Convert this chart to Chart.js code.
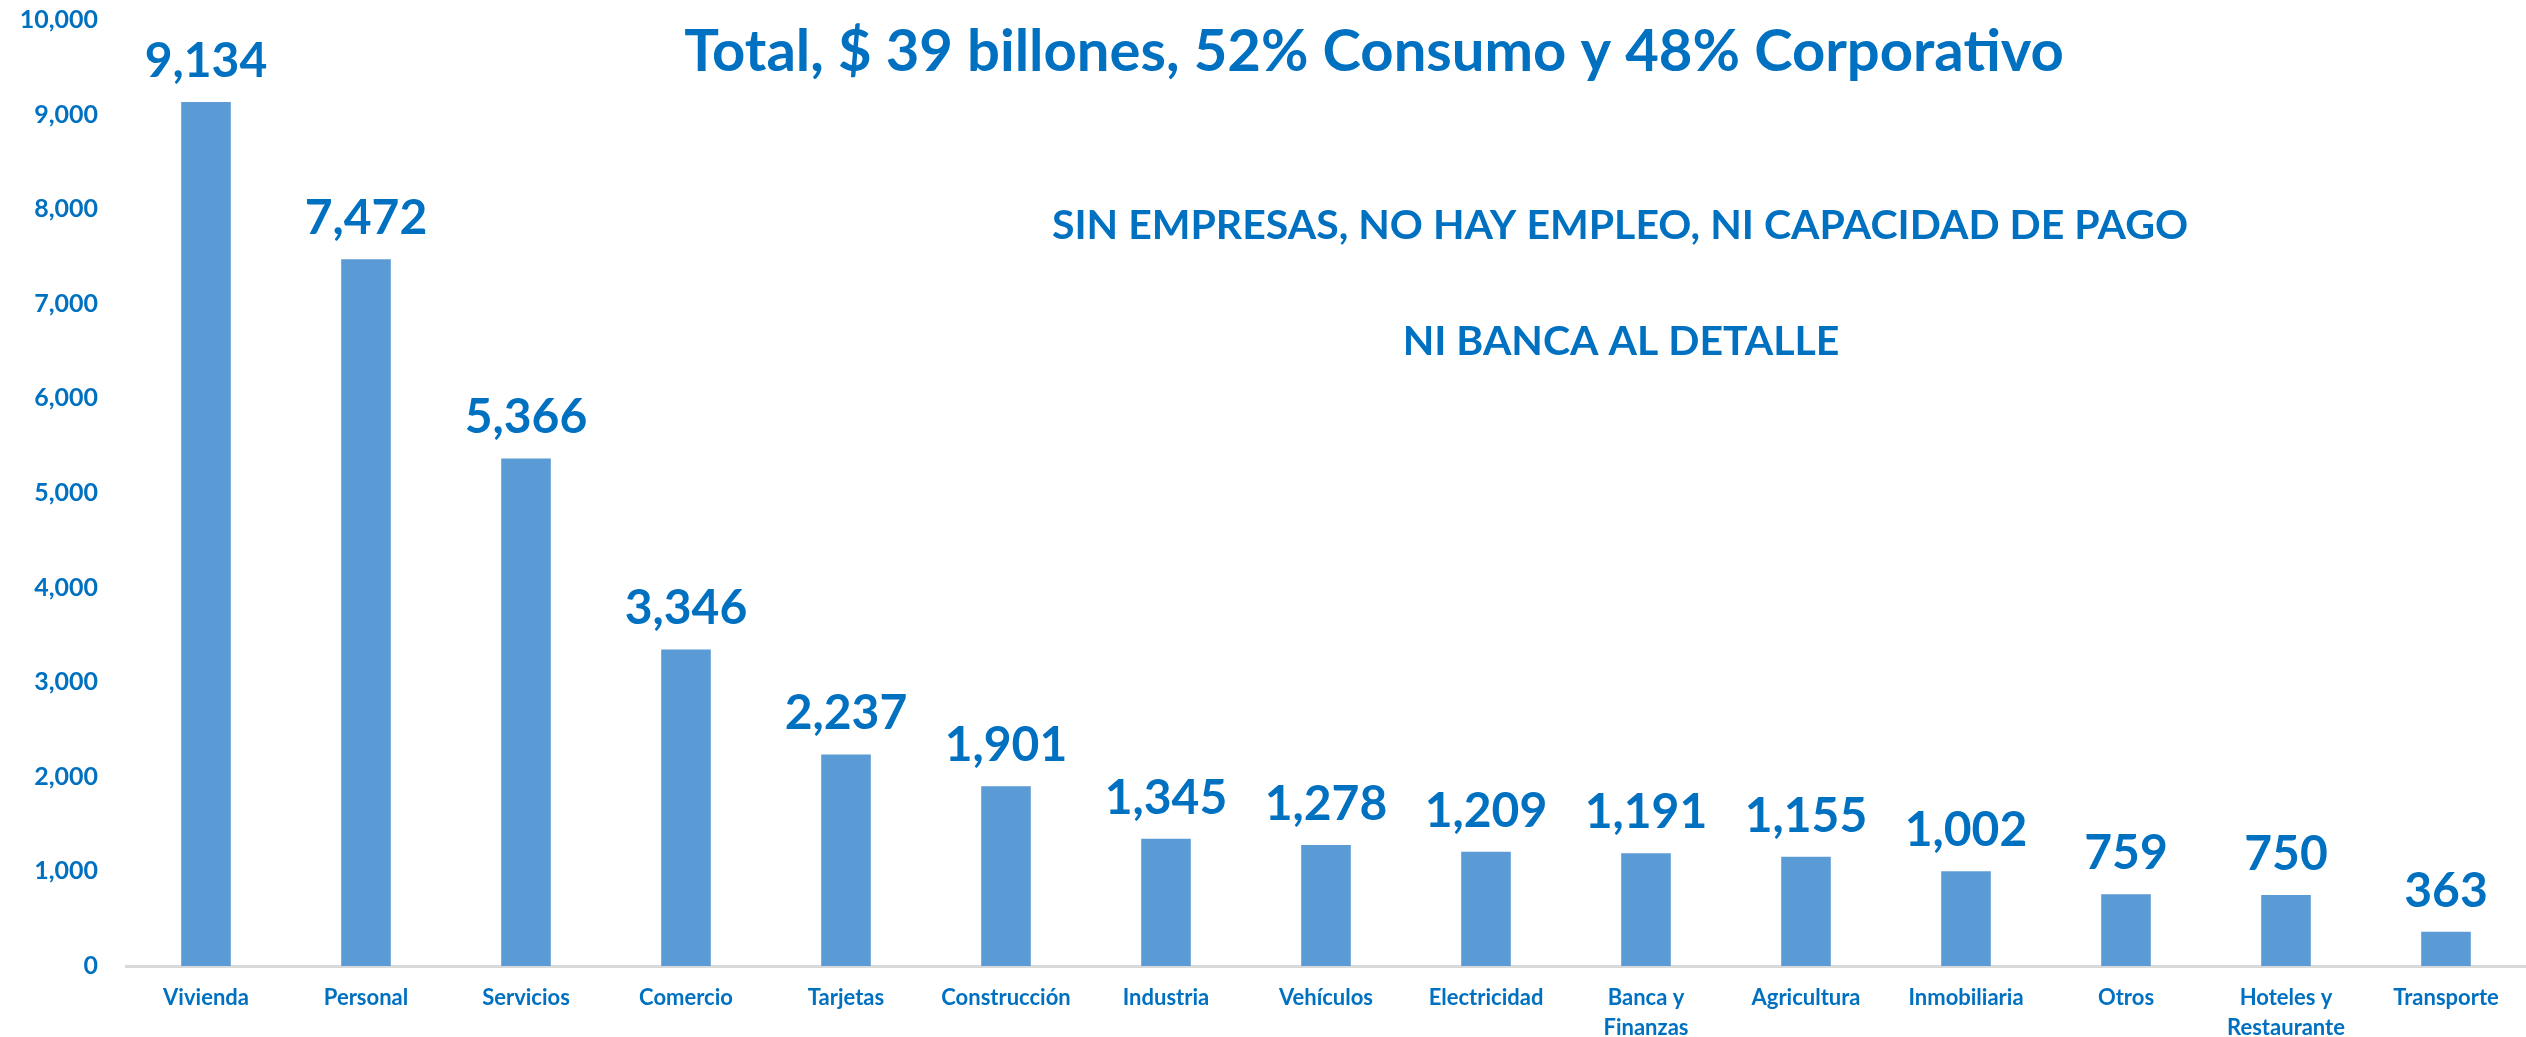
<!DOCTYPE html>
<html>
<head>
<meta charset="utf-8">
<title>Cartera por sector</title>
<script src="https://cdn.jsdelivr.net/npm/chart.js@4.4.1/dist/chart.umd.min.js"></script>
<style>
  html, body { margin: 0; padding: 0; background: #ffffff; }
  canvas { display: block; }
</style>
</head>
<body>
<canvas id="sectorChart" width="2526" height="1037"></canvas>
<script>
// Sectores y saldos (millones)
const sectores = [
    "Vivienda", "Personal", "Servicios", "Comercio", "Tarjetas", "Construcción",
    "Industria", "Vehículos", "Electricidad", ["Banca y", "Finanzas"], "Agricultura",
    "Inmobiliaria", "Otros", ["Hoteles y", "Restaurante"], "Transporte"
];
const saldos = [9134, 7472, 5366, 3346, 2237, 1901, 1345, 1278, 1209, 1191, 1155, 1002, 759, 750, 363];
const ticksEje = [0, 1000, 2000, 3000, 4000, 5000, 6000, 7000, 8000, 9000, 10000];

const titulo = "Total, $ 39 billones, 52% Consumo y 48% Corporativo";
const mensajes = ["SIN EMPRESAS, NO HAY EMPLEO, NI CAPACIDAD DE PAGO", "NI BANCA AL DETALLE"];

const AZUL_TEXTO = "#0070C0";
const AZUL_BARRA = "#5B9BD5";
const FUENTE = "Lato, 'Open Sans', sans-serif";

function formato(v) {
    return v.toLocaleString("en-US");
}

// Etiquetas de valor encima de cada barra
const etiquetasValor = {
    id: "etiquetasValor",
    afterDatasetsDraw(chart) {
        const ctx = chart.ctx;
        const meta = chart.getDatasetMeta(0);
        ctx.save();
        ctx.font = "bold 48px " + FUENTE;
        ctx.fillStyle = AZUL_TEXTO;
        ctx.textAlign = "center";
        ctx.textBaseline = "alphabetic";
        meta.data.forEach((bar, i) => {
            ctx.fillText(formato(saldos[i]), bar.x, bar.y - 25);
        });
        ctx.restore();
    }
};

// Titulo y mensajes
const textos = {
    id: "textos",
    afterDraw(chart) {
        const ctx = chart.ctx;
        ctx.save();
        ctx.fillStyle = AZUL_TEXTO;
        ctx.textAlign = "center";
        ctx.textBaseline = "middle";
        ctx.font = "bold 58px " + FUENTE;
        ctx.fillText(titulo, 1374, 52);
        ctx.font = "bold 41px " + FUENTE;
        ctx.fillText(mensajes[0], 1620, 226);
        ctx.fillText(mensajes[1], 1621, 342);
        ctx.restore();
    }
};

new Chart(document.getElementById("sectorChart"), {
    type: "bar",
    data: {
        labels: sectores,
        datasets: [{
            data: saldos,
            backgroundColor: AZUL_BARRA,
            borderWidth: 0,
            barPercentage: 0.31,
            categoryPercentage: 1.0
        }]
    },
    options: {
        responsive: false,
        maintainAspectRatio: false,
        animation: false,
        layout: { padding: { top: 20, right: 0, bottom: 0, left: 0 } },
        plugins: {
            legend: { display: false },
            tooltip: { enabled: false }
        },
        scales: {
            x: {
                grid: { display: false, drawTicks: false },
                border: { display: true, color: "#D9D9D9", width: 3 },
                ticks: {
                    color: AZUL_TEXTO,
                    font: { family: FUENTE, size: 22, weight: "bold", lineHeight: 1.35 },
                    padding: 17,
                    maxRotation: 0,
                    autoSkip: false
                },
                afterFit(scale) {
                    scale.height = 71;
                    scale.paddingLeft = 0;
                    scale.paddingRight = 0;
                }
            },
            y: {
                min: 0,
                max: 10000,
                afterBuildTicks(scale) {
                    scale.ticks = ticksEje.map(v => ({ value: v }));
                },
                grid: { display: false, drawTicks: false },
                border: { display: false },
                ticks: {
                    color: AZUL_TEXTO,
                    font: { family: FUENTE, size: 25, weight: "bold" },
                    padding: 28,
                    callback: v => formato(v)
                },
                afterFit(scale) {
                    scale.width = 126;
                    scale.paddingTop = 0;
                    scale.paddingBottom = 0;
                }
            }
        }
    },
    plugins: [etiquetasValor, textos]
});
</script>
</body>
</html>
